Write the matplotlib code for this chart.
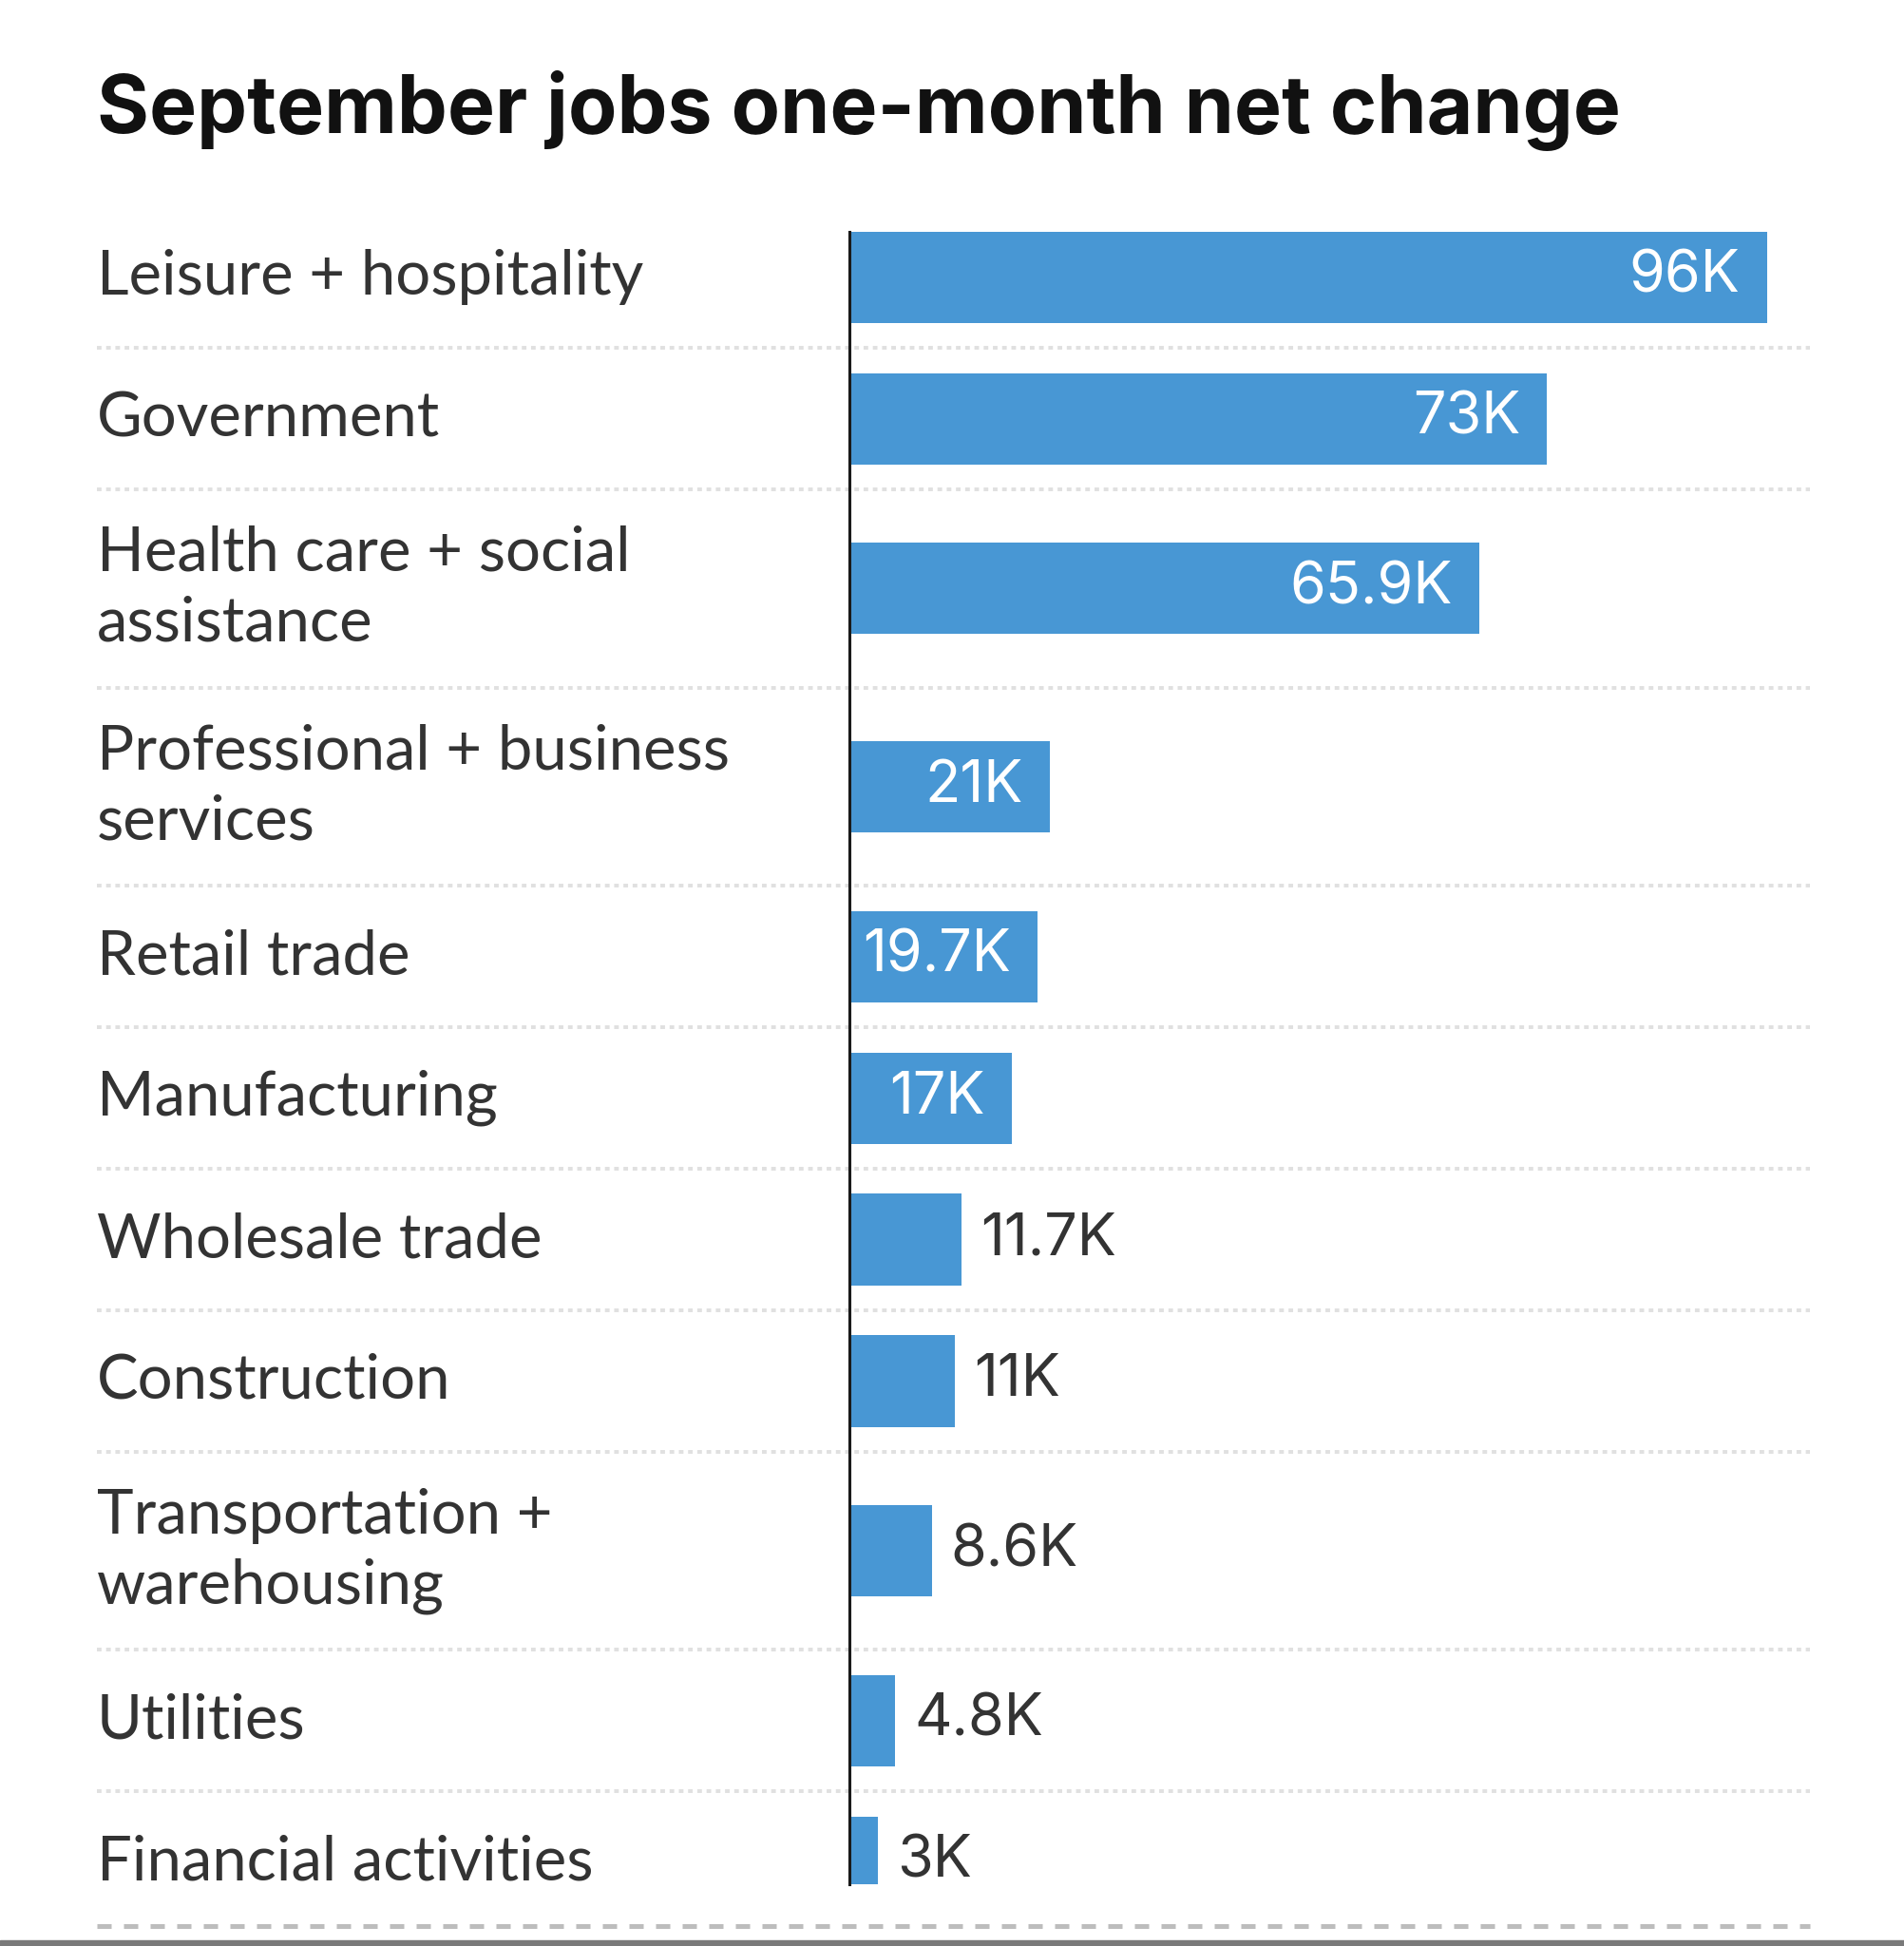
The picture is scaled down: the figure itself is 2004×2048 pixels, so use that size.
import numpy as np
import matplotlib.pyplot as plt
from matplotlib.transforms import blended_transform_factory
from matplotlib.patches import Rectangle

plt.rcParams['font.family'] = ['Lato', 'DejaVu Sans']

title = "September jobs one-month net change"
sectors = ["Leisure + hospitality", "Government", "Health care + social\nassistance",
           "Professional + business\nservices", "Retail trade", "Manufacturing",
           "Wholesale trade", "Construction", "Transportation +\nwarehousing",
           "Utilities", "Financial activities"]
net_change = [96, 73, 65.9, 21, 19.7, 17, 11.7, 11, 8.6, 4.8, 3]
value_labels = ["96K", "73K", "65.9K", "21K", "19.7K", "17K", "11.7K", "11K", "8.6K", "4.8K", "3K"]

W, H = 2004, 2048
bar_color = "#4897d4"
text_color = "#333333"

# rows get taller when the label wraps to two lines
row_h = np.array([1 + 0.4 * s.count("\n") for s in sectors])
edges = np.concatenate([[0], np.cumsum(row_h)])
centers = (edges[:-1] + edges[1:]) / 2

fig = plt.figure(figsize=(W / 100, H / 100), dpi=100)
ax = fig.add_axes([894 / W, (H - 1983) / H, (1905 - 894) / W, (1983 - 244) / H])
ax.set_xlim(0, 100.5)
ax.set_ylim(11.855, 0.18)

ax.barh(centers, net_change, height=0.645, color=bar_color, zorder=3)

for sp in ["top", "right", "bottom"]:
    ax.spines[sp].set_visible(False)
ax.spines["left"].set_linewidth(2.2)
ax.spines["left"].set_color("#1a1a1a")
ax.spines["left"].set_zorder(4)
ax.set_xticks([])
ax.set_yticks([])

blend = blended_transform_factory(fig.transFigure, ax.transData)
x0, x1 = 102 / W, 1905 / W

# separators
for y in edges[1:-1]:
    ax.plot([x0, x1], [y, y], transform=blend, clip_on=False,
            color="#e0e0e0", lw=2.8, ls=(0, (1.25, 1.25)), zorder=1)
ax.plot([x0, x1], [edges[-1] - 0.05] * 2, transform=blend, clip_on=False,
        color="#bdbdbd", lw=3.6, ls=(0, (3, 2.6)), zorder=1)

# category labels
for s, y in zip(sectors, centers):
    ax.text(x0, y, s, transform=blend, ha="left", va="center",
            fontsize=47, color=text_color, linespacing=1.31)

# value labels
for v, lab, y in zip(net_change, value_labels, centers):
    if v >= 15:
        ax.text(v - 2.8, y, lab, ha="right", va="center", fontsize=44,
                family=["Inter", "DejaVu Sans"], color="white", zorder=5)
    else:
        ax.text(v + 2.0, y, lab, ha="left", va="center", fontsize=44,
                family=["Inter", "DejaVu Sans"], color=text_color, zorder=5)

fig.text(x0, 1 - 140 / H, title, ha="left", va="baseline",
         fontsize=60.5, fontweight="bold", family=["Inter", "DejaVu Sans"],
         color="#111111")

fig.patches.append(Rectangle((0, 0), 1, 6 / H, transform=fig.transFigure,
                             color="#7a7a7a", zorder=0))

fig.savefig("out.png", dpi=100, facecolor="white")
